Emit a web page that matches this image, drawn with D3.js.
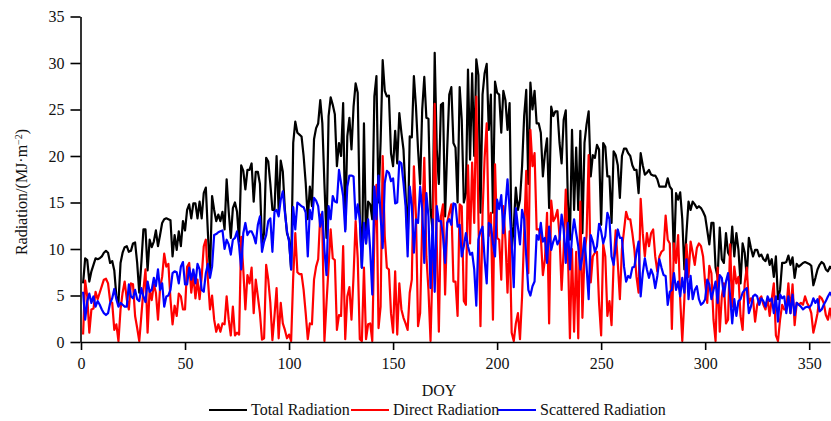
<!DOCTYPE html>
<html><head><meta charset="utf-8">
<script src="https://cdn.jsdelivr.net/npm/d3@7"></script>
<style>html,body{margin:0;padding:0;background:#fff}svg{display:block}text{font-family:"Liberation Serif",serif;fill:#111}</style>
</head><body><svg id="c" width="831" height="421"></svg>
<script>
const xTicks=[0,50,100,150,200,250,300,350];
const yTicks=[0,5,10,15,20,25,30,35];
const seriesNames=["Total Radiation","Direct Radiation","Scattered Radiation"];
const seriesColors=["#000000","#ff0000","#0000ff"];
const total=[6.3,9.0,8.8,6.5,7.6,8.3,9.0,8.9,9.0,9.2,
9.6,9.8,9.6,8.5,8.7,7.7,4.9,4.2,8.5,9.6,
10.2,10.3,9.7,9.8,10.6,10.7,8.5,5.3,8.5,12.1,
12.1,7.7,11.0,10.2,10.8,12.0,10.3,11.5,12.8,13.2,
13.3,13.2,13.1,9.2,11.5,9.9,11.9,10.3,13,12,
14.2,14.8,13.3,14.9,14.9,13.3,15.1,13.3,16,16.6,
11.7,7.4,15.7,14.2,13,13.7,13,14,12.1,17.5,
14,11.2,14.4,15,14,10.8,19,18.4,16.4,18.5,18.5,
19.2,15.1,18.3,18.3,17,10.6,11.7,19.8,19.4,17,14.2,14.2,20,14.2,19.5,18.3,14.2,11.7,11,
7.8,21.4,23.7,22.5,22.3,22.1,20,17.1,13.2,16.7,
14.6,21.8,23,23.5,26,23.5,17,11.2,24.3,26.3,
25.5,24.5,18.9,21.4,20,25.7,12.1,22.1,24.1,20.7,
25.3,27.8,26.8,13.5,8,23.5,10.6,15.1,14.8,13.2,
26.4,28.6,15,21.5,30.3,27,26.4,26.5,20.3,18.9,
22.7,19.2,24.6,22.5,20.7,16,10.6,22.1,22,28.6,
25.3,20.7,17,25,28.5,24.1,24,14.2,12,31.1,
20.7,17,25.5,25.7,13.5,20.7,26.6,27.4,21.4,20.9,
15,27.4,23.9,15,16,29.3,19.6,28.9,20,30.4,
28.7,13.9,26.6,28.9,29.9,22.8,26.6,13.9,28,26.8,
26.6,22.5,27,26,22.8,25.7,9.9,12.4,16.6,14.2,
15.3,18.9,24.3,27.1,17,27.9,25,27,23.5,23.5,
22.5,17.8,20.3,21.9,14.4,25.3,24.3,24.8,24.8,21.4,
19.2,23.9,24.9,15.3,11,22.8,14.2,20.9,14.2,22.7,
11.7,21.4,23.4,24.8,17.8,20.1,19.8,21.2,20.7,12.6,
21.4,21,17.8,17.8,12.8,20.5,20.1,19,15.5,20,
20.8,20.8,20.3,20,19,18.5,18.5,16,20.3,19,
18,18.2,18.5,18,17.9,17.9,17.5,16.7,16.7,16.7,
16.7,17.6,16.7,16.4,8.9,16,15.3,16.1,13.2,7.8,
11.7,15.1,14.2,15.1,14.8,14.4,14.6,14.4,14,13.5,
12,10.5,12.8,12.8,8,7,12.3,8.9,8.5,11.7,
9.6,9.2,12.4,9.2,11.7,9.9,6.3,10.6,9.6,7,
11.2,10.1,9.2,9.9,9.9,9.2,9.4,8.9,8.7,9.4,
8.3,8.9,7,9.2,4.6,5.6,8.5,8.5,8.6,9.3,
8.3,9.1,6.9,8.4,8.1,8.3,8.5,8.6,8.5,8.4,
8.2,6.1,6.9,7.8,8.3,8.6,8.4,7.8,7.6,8.1,7.8];
const direct=[.8,6.6,4.9,1,3.5,3.6,5.4,4.6,5.3,6,
6.7,6.8,6.3,4.4,4.2,1.3,1.9,.1,3.5,5.3,
6.5,4.6,3.5,6.3,6.2,2.8,1.5,.1,2.8,5.6,
7.8,1,5.6,4.5,6.2,5.3,2.4,5.8,7,9.5,
8.1,8.4,4.6,1.9,3.9,2.8,5.2,4.9,3.5,3.5,
8.1,8.5,5.3,7.2,4.7,6.7,4.6,7,10.3,11,
6.7,3.5,5,2.4,1.1,1.9,1.1,2,1.9,4.9,
2.4,.7,3.8,.7,1,.8,11.3,7.8,3.5,7.2,6.3,
8,3.1,6.7,4.9,3.1,.25,.4,8.3,6.7,4.2,.2,2.8,5.8,.4,4.2,2,1.3,.4,.8,
.1,7,11.7,7.5,7.3,7.3,5.6,3.1,.3,2,
1.9,6.7,8.1,8.9,13.7,12.4,.1,4.2,8.1,12.1,
9,8.8,1.3,2.9,2.8,10.3,.3,4.9,5.9,2.4,
7.1,13,9,.3,.1,8,.3,1.9,2,.1,
11.5,16.9,1.5,3.8,20,11.4,8,7.8,3.1,1,
7.6,.8,6.3,3.5,2.6,2,1.3,5.3,6.7,18.9,
13.5,1.7,3.1,12.8,19.8,9.2,5.6,.1,8.5,25.6,
10.5,1.1,13.5,14.8,5.1,12.8,13.9,14.8,6.5,6.5,
2.8,14.8,14.6,4.4,4,19,10.6,19.3,12.8,26.4,
13.5,1.7,13.9,19.8,23.5,11.4,13.9,2.4,19.1,11.2,
11,6.7,14.6,11,5.3,11.9,1,.1,2,3.1,
.3,4.9,11.7,18.4,7.4,22.8,18.9,20.3,12.1,12.1,
11.4,7.2,8.9,13.9,2,15.2,13,13.4,14.2,11.4,
5.6,10,16.4,10,.4,10,1.1,9.7,.4,15.1,
2.6,9.5,11.4,20.1,6.4,9.2,9.6,9.7,4.2,.7,
10.5,9.2,2.8,4.4,1.8,8.5,12,8.5,4.6,10,
12,14,13.2,13.2,11.7,9.9,7,5.3,15.4,11.7,
9.2,11.7,10.3,11.7,12.1,9.2,7.6,9.2,9.7,9.9,
13.6,11,10.6,1.4,10.6,8.5,11.5,4.6,.1,4.6,
10.5,7,10.8,9.6,8.3,10.1,10.6,10.3,9.2,6.3,
4.2,8.2,7.4,2.4,.1,8,1.1,4.9,6.3,2,
2.4,10.5,3.8,8.1,6.3,7,2.8,1.3,6.3,8,
4.2,4.7,4.6,2.2,4,4.6,4.9,4,3.5,4.7,
2.8,4.6,6.3,.7,.1,2.4,4,3.5,3.5,6.3,
3.1,6.2,1.8,4.2,4,4.2,4,4.9,4.2,3.8,
3.1,1,2,3.1,4.9,4.7,4.2,2.9,2.4,3.6,2.3];
const scattered=[5.4,2.4,4.4,5.2,4.2,4.9,3.8,4.4,4,3.5,
3.1,2.9,3.1,4.2,4.7,5.7,4.6,3.8,4.2,4,
3.8,3.8,6.2,4.9,4.7,5.6,4.6,4.4,5.8,4.9,
4.3,6.5,5.4,5.6,6.9,6,7.8,5.6,6.3,3.8,
4.9,5,5.6,7.4,7.6,7.5,6.3,8.1,8.6,6.2,
6.2,8,6.7,7.8,6.3,8.4,7.8,5.6,5.4,7.4,
8.4,6.9,8.1,11.5,11.6,11.8,11.9,12,10,11,
10.5,9.4,11,11.2,11.9,10.3,7.8,11.7,12.8,11.5,11.9,
11.9,11.4,10.6,12.6,13.5,9.7,10.8,11.5,13,13.3,9.7,14,14.2,13.5,15.3,16.2,13.9,11.9,10.8,
7.8,14.5,12.1,15,14.8,14.6,14.5,13.9,9.2,14.2,
13.2,15.5,15.2,14.6,12.4,14,9.9,7.2,14.6,13.2,
15.7,15.1,15,18.5,17.1,15.7,11.9,16.7,17.9,17.9,
17.8,13.2,14.8,13.2,8,12.8,10.6,13.2,9.9,5.1,
16.7,13.2,17.9,13.5,10.1,17.1,18.4,18.2,17.3,17.6,
14.9,15,19.4,19.2,17.1,14.6,9.2,16.7,14.6,9.6,
13.2,12.8,16.7,14.2,8.5,16,13.5,5.8,13.2,5.4,
14.6,13,13,11.4,8.5,12.8,13.2,12.6,14.9,14.8,
12.4,12.6,9.2,10.3,11.7,10.3,9.4,9.6,7.8,3.9,
11,11.9,12.4,8.9,6.3,12.8,12.6,10.6,9.2,15.3,
14.3,15.8,11.7,14.6,17.5,14.2,10.6,5.9,14.4,12.4,
10.5,14.2,13.2,9.2,5.6,5,6,6.5,11.5,11,
12.8,10.8,11.2,8.5,12.4,9.9,10.8,11.4,10.5,11,
13.7,12.1,8.5,12.8,7.8,11.4,13.2,11.7,10.3,7.8,
9.2,11.2,8.1,4.6,11.5,10.8,9.7,10.3,12.7,11.9,
10.6,11.4,13.9,13.2,9.2,8.3,10.3,12.1,11.2,11.2,
8.1,6.5,7.1,6.9,8,8.1,9.6,10.8,4.9,7.4,
9,7.8,6.9,7.8,7.2,5.8,7.1,8.9,8,7.2,
7.1,4,5.4,5.6,7.4,5.6,6.5,4.9,6.9,5.3,
8.9,4.6,7.1,4.6,5.6,6,4.6,4,4.2,4.6,
6.7,6.2,4.6,5.6,6.5,4.2,7.2,6.9,4.9,6.5,
7.4,4.9,2,4.6,2.8,4.4,4.6,5.3,5.6,5.8,
3.1,3.8,4.9,5.1,4.9,4,4.7,4.4,3.8,4.9,
4.4,4.7,3.1,4.9,2.2,5.1,4.7,4.9,3.1,4.9,
3.1,5.1,2.9,4.2,4,3.8,3.5,3.7,3.8,3.7,
4,4.7,4.2,4.6,3.3,3.5,4,4.4,4.9,5.3,4.9];
const seriesValues=[total,direct,scattered];

const svg=d3.select("#c");
const x=d3.scaleLinear().domain([0,360]).range([81,830]);
const y=d3.scaleLinear().domain([0,35]).range([342,16.5]);
const line=d3.line().x((d,i)=>x(i+1)).y(d=>y(d)).curve(d3.curveLinear);

seriesValues.forEach((vals,k)=>{
  svg.append("path").datum(vals).attr("d",line).attr("fill","none")
    .attr("stroke",seriesColors[k]).attr("stroke-width",2.2).attr("stroke-linejoin","round");
});

const gx=svg.append("g").attr("transform","translate(0,342)")
  .call(d3.axisBottom(x).tickValues(xTicks).tickSize(8).tickSizeOuter(0).tickPadding(8));
const gy=svg.append("g").attr("transform","translate(80.5,0)")
  .call(d3.axisLeft(y).tickValues(yTicks).tickSize(10).tickSizeOuter(0).tickPadding(6));
[gx,gy].forEach(g=>{
  g.selectAll("path,line").attr("stroke","#000").attr("stroke-width",1.6);
  g.selectAll("text").style("font-family",'"Liberation Serif",serif').style("font-size","16px").attr("fill","#111");
});

svg.append("text").attr("x",439).attr("y",396).attr("text-anchor","middle").style("font-size","16px").text("DOY");
const yl=svg.append("text").attr("transform","translate(27,192) rotate(-90)").attr("text-anchor","middle").style("font-size","16px");
yl.append("tspan").text("Radiation/(MJ·m");
yl.append("tspan").attr("dy",-5).style("font-size","10px").text("−2");
yl.append("tspan").attr("dy",5).text(")");

const legX=[209,351,498];
seriesNames.forEach((n,k)=>{
  const g=svg.append("g").attr("transform",`translate(${legX[k]},410)`);
  g.append("line").attr("x1",0).attr("x2",38).attr("stroke",seriesColors[k]).attr("stroke-width",2);
  g.append("text").attr("x",42).attr("y",5).style("font-size","16px").text(n);
});
</script></body></html>
